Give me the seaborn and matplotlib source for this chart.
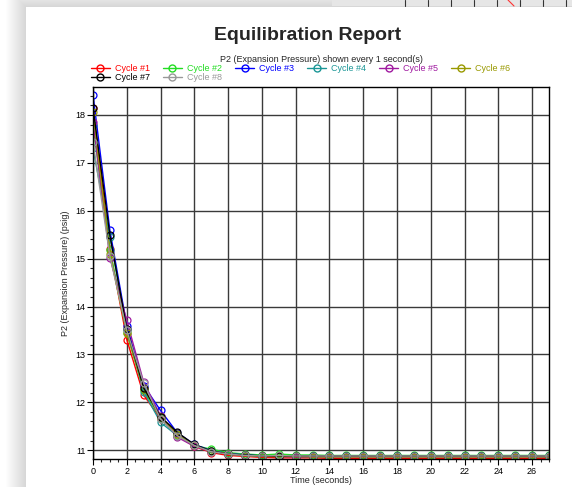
import matplotlib
matplotlib.use("Agg")
import matplotlib.pyplot as plt
from matplotlib.patches import Rectangle
from matplotlib.lines import Line2D
from matplotlib.ticker import MultipleLocator
import numpy as np
import pandas as pd
import seaborn as sns

# ---------------- data ----------------
time_s = list(range(28))
cycle_names = ["Cycle #1", "Cycle #2", "Cycle #3", "Cycle #4",
               "Cycle #5", "Cycle #6", "Cycle #7", "Cycle #8"]
cycle_colors = ["#ff0000", "#22dd22", "#0000ff", "#1a9696",
                "#a01aa0", "#999900", "#000000", "#999999"]

cycle1 = [18.15, 15.20, 13.31, 12.15, 11.66, 11.30, 11.08, 10.95, 10.89, 10.87,
          10.85, 10.84, 10.84, 10.84, 10.83, 10.83, 10.83, 10.83, 10.83, 10.83,
          10.83, 10.83, 10.83, 10.83, 10.83, 10.83, 10.83, 10.83]
cycle2 = [17.79, 15.18, 13.45, 12.25, 11.68, 11.32, 11.10, 11.02, 10.95, 10.92,
          10.90, 10.92, 10.90, 10.90, 10.89, 10.89, 10.89, 10.89, 10.89, 10.89,
          10.89, 10.89, 10.89, 10.89, 10.89, 10.89, 10.89, 10.89]
cycle3 = [18.42, 15.59, 13.60, 12.35, 11.83, 11.36, 11.12, 10.99, 10.93, 10.90,
          10.88, 10.88, 10.87, 10.87, 10.87, 10.87, 10.87, 10.87, 10.87, 10.87,
          10.87, 10.87, 10.87, 10.87, 10.87, 10.87, 10.87, 10.87]
cycle4 = [17.30, 15.45, 13.52, 12.22, 11.58, 11.30, 11.10, 10.98, 10.93, 10.90,
          10.88, 10.88, 10.88, 10.88, 10.88, 10.88, 10.88, 10.88, 10.88, 10.88,
          10.88, 10.88, 10.88, 10.88, 10.88, 10.88, 10.88, 10.88]
cycle5 = [17.86, 15.02, 13.71, 12.42, 11.72, 11.27, 11.08, 10.97, 10.92, 10.89,
          10.87, 10.87, 10.86, 10.86, 10.86, 10.86, 10.86, 10.86, 10.86, 10.86,
          10.86, 10.86, 10.86, 10.86, 10.86, 10.86, 10.86, 10.85]
cycle6 = [18.07, 15.10, 13.45, 12.28, 11.70, 11.33, 11.10, 10.98, 10.92, 10.89,
          10.87, 10.87, 10.87, 10.86, 10.86, 10.86, 10.86, 10.86, 10.86, 10.86,
          10.86, 10.86, 10.86, 10.86, 10.86, 10.86, 10.86, 10.86]
cycle7 = [18.15, 15.49, 13.54, 12.30, 11.70, 11.37, 11.12, 10.98, 10.92, 10.90,
          10.88, 10.88, 10.88, 10.88, 10.88, 10.88, 10.88, 10.88, 10.88, 10.88,
          10.88, 10.88, 10.88, 10.88, 10.88, 10.88, 10.88, 10.88]
cycle8 = [17.44, 15.05, 13.50, 12.40, 11.65, 11.30, 11.10, 10.97, 10.92, 10.89,
          10.88, 10.89, 10.88, 10.88, 10.88, 10.88, 10.88, 10.88, 10.88, 10.88,
          10.88, 10.88, 10.88, 10.88, 10.88, 10.88, 10.88, 10.88]
cycle_values = [cycle1, cycle2, cycle3, cycle4, cycle5, cycle6, cycle7, cycle8]

title_text = "Equilibration Report"
subtitle_text = "P2 (Expansion Pressure) shown every 1 second(s)"
xlabel_text = "Time (seconds)"
ylabel_text = "P2 (Expansion Pressure) (psig)"

# ---------------- table ----------------
rows = []
for name, vals in zip(cycle_names, cycle_values):
    for t, v in zip(time_s, vals):
        rows.append({"Time": t, "Pressure": v, "Cycle": name})
df = pd.DataFrame(rows)

# ---------------- style ----------------
sns.set_theme(style="white")
plt.rcParams["font.family"] = ["Liberation Sans", "DejaVu Sans"]

W, H = 572, 487
fig = plt.figure(figsize=(W / 100, H / 100), dpi=100)
fig.patch.set_facecolor("white")

# background: page shadow and card
card_x, card_y = 26, 7
for i in range(20):
    fig.patches.append(Rectangle(((card_x - 20 + i) / W, 0), 1, (H - card_y + 20 - i) / H,
                                 transform=fig.transFigure, facecolor="black",
                                 alpha=0.007, edgecolor="none", zorder=0))
# hidden card at top right
fig.patches.append(Rectangle((332 / W, (H - 6) / H), 1, 6 / H, transform=fig.transFigure,
                             facecolor="#e6e6e6", edgecolor="none", zorder=0.5))
for xv in [405, 428, 451, 474, 497, 520, 543, 566]:
    fig.lines.append(Line2D([xv / W, xv / W], [(H - 6) / H, 1], transform=fig.transFigure,
                            color="#333333", lw=0.8, zorder=0.6))
fig.lines.append(Line2D([508 / W, 514 / W], [1, (H - 6) / H], transform=fig.transFigure,
                        color="#ff3333", lw=0.8, zorder=0.6))
fig.patches.append(Rectangle((card_x / W, 0), 1, (H - card_y) / H, transform=fig.transFigure,
                             facecolor="white", edgecolor="none", zorder=1))

ax = fig.add_axes([93 / W, (H - 459.3) / H, (549 - 93) / W, (459.3 - 86.7) / H])
ax.set_zorder(2)

sns.lineplot(data=df, x="Time", y="Pressure", hue="Cycle", hue_order=cycle_names,
             palette=cycle_colors, marker="o", markerfacecolor="none",
             markersize=5, markeredgewidth=0.9, linewidth=1.0, legend=False,
             ax=ax, clip_on=True)
for ln, c in zip(ax.lines, cycle_colors):
    ln.set_markeredgecolor(c)

ax.set_xlim(0, 27)
ax.set_ylim(10.81, 18.59)
ax.xaxis.set_major_locator(MultipleLocator(2))
ax.xaxis.set_minor_locator(MultipleLocator(0.5))
ax.yaxis.set_major_locator(MultipleLocator(1))
ax.yaxis.set_minor_locator(MultipleLocator(0.2))
ax.grid(True, which="major", color="#3a3a3a", linewidth=1.0)
ax.set_axisbelow(True)
ax.tick_params(which="major", direction="out", length=4, width=0.8, labelsize=6.5,
               pad=1.5, colors="black", left=True, bottom=True)
ax.tick_params(which="minor", direction="out", length=2, width=0.8,
               left=True, bottom=True)
for sp in ax.spines.values():
    sp.set_color("black")
    sp.set_linewidth(1.0)
ax.set_xlabel(xlabel_text, fontsize=6.5, labelpad=0)
ax.set_ylabel(ylabel_text, fontsize=6.5, labelpad=4)

fig.text(308 / W, 1 - 35 / H, title_text, ha="center", va="center",
         fontsize=14, fontweight="bold", zorder=3)
fig.text(321 / W, 1 - 60 / H, subtitle_text, ha="center", va="center",
         fontsize=6.5, zorder=3)

handles = [Line2D([0], [0], color=c, lw=1.0, marker="o", markerfacecolor="none",
                  markeredgecolor=c, markersize=5) for c in cycle_colors]
# legend fills column by column: reorder so that it reads row by row
order = [0, 6, 1, 7, 2, 3, 4, 5]
leg = fig.legend([handles[i] for i in order], [cycle_names[i] for i in order],
                 loc="upper left",
                 bbox_to_anchor=(91 / W, 1 - 64 / H), ncol=6, frameon=False,
                 fontsize=6.5, handlelength=2.1, handletextpad=0.6,
                 columnspacing=1.4, labelspacing=0.0, borderpad=0, borderaxespad=0)
for txt, i in zip(leg.get_texts(), order):
    txt.set_color(cycle_colors[i])
leg.set_zorder(3)

fig.savefig("out.png", dpi=100)
